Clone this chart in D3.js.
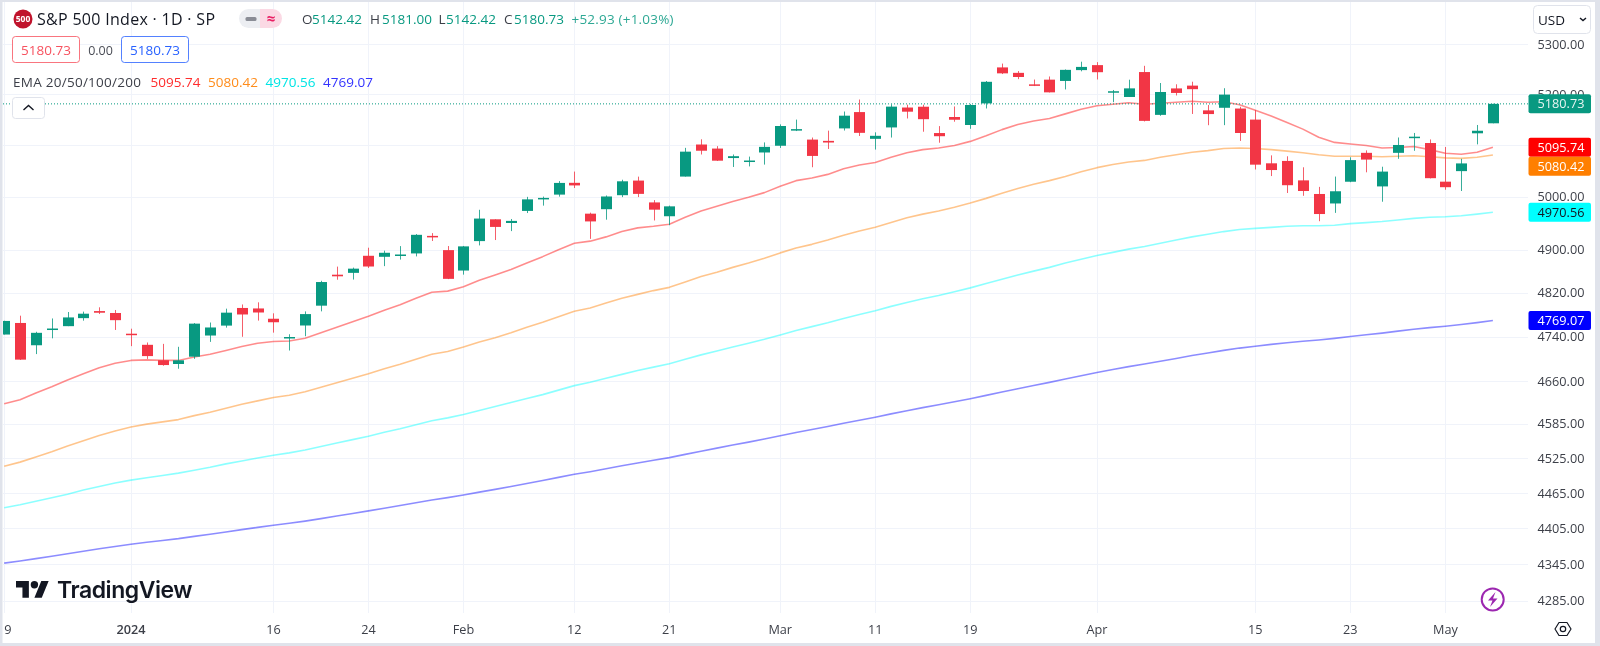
<!DOCTYPE html>
<html><head><meta charset="utf-8">
<script src="https://cdn.jsdelivr.net/npm/d3@7/dist/d3.min.js"></script>
<style>
html,body{margin:0;padding:0;background:#fff;overflow:hidden}
svg{display:block;filter:blur(0.35px)}
text{font-family:"Open Sans",Roboto,sans-serif}
</style></head><body>
<svg id="c" width="1600" height="646"></svg>
<script>
const dates=["12-19","12-20","12-21","12-22","12-26","12-27","12-28","12-29","01-02","01-03","01-04","01-05","01-08","01-09","01-10","01-11","01-12","01-16","01-17","01-18","01-19","01-22","01-23","01-24","01-25","01-26","01-29","01-30","01-31","02-01","02-02","02-05","02-06","02-07","02-08","02-09","02-12","02-13","02-14","02-15","02-16","02-20","02-21","02-22","02-23","02-26","02-27","02-28","02-29","03-01","03-04","03-05","03-06","03-07","03-08","03-11","03-12","03-13","03-14","03-15","03-18","03-19","03-20","03-21","03-22","03-25","03-26","03-27","03-28","04-01","04-02","04-03","04-04","04-05","04-08","04-09","04-10","04-11","04-12","04-15","04-16","04-17","04-18","04-19","04-22","04-23","04-24","04-25","04-26","04-29","04-30","05-01","05-02","05-03","05-06"];
const open=[4743.7,4764.7,4724.3,4753.9,4758.9,4773.5,4786.4,4782.9,4745.2,4725.1,4697.4,4690.6,4703.7,4741.9,4759.9,4792.1,4791.2,4772.4,4739.1,4760.1,4796.3,4853.4,4856.8,4888.6,4886.7,4888.9,4893,4925.9,4899.2,4861.1,4916.1,4957.2,4950.2,4973.1,4995.2,5004.2,5026.8,4967.9,4976.4,5003.1,5031.1,4989.3,4963,5038.8,5100.9,5093,5074.6,5067.2,5085.4,5098.5,5131,5110.5,5108,5132.4,5164.5,5112,5134.3,5173.5,5175.1,5123.3,5154.8,5139.1,5181.7,5253.4,5242.5,5219.5,5228.9,5226.3,5248,5258,5204.3,5194.4,5244.1,5159,5211.4,5217,5167.9,5173,5171.5,5149.7,5064.4,5069,5031.5,5005.4,4987.3,5028.9,5084.7,5019.9,5084.7,5114.1,5103.8,5029,5049.3,5122.8,5142.42];
const high=[4768.7,4778,4748.7,4772.9,4784.7,4785.4,4793.3,4788.4,4754.3,4729.3,4726.8,4721.5,4764.5,4765.5,4790.8,4798.5,4802.4,4782.3,4744.2,4785.8,4842.1,4868.4,4866.5,4903.7,4898.2,4906.7,4929.3,4931.1,4906.8,4907,4975.3,4957.2,4957.8,4999.9,5000.4,5030.1,5048.4,4969.8,5002.5,5032.7,5038.7,4993.7,4983.2,5094.4,5111.1,5097.7,5081.5,5077.4,5105,5140.3,5149.7,5114.5,5128,5165.6,5189.3,5124.7,5179.9,5179.1,5179.1,5136.9,5175.6,5180.3,5226.2,5261.1,5246.1,5229.1,5235.2,5249.3,5264.9,5264,5208.3,5228.8,5256.6,5222.2,5219.6,5224.8,5178.4,5211.8,5175,5168.4,5079.8,5078,5056.7,5019,5038.8,5076.1,5089.5,5057.8,5114.6,5123.5,5110.8,5096.1,5073.1,5139.1,5181];
const low=[4743.7,4697.8,4708.4,4736.8,4758.9,4768.9,4781,4752,4722.7,4699.7,4687.5,4682.1,4699.8,4730.4,4756.2,4739.6,4769,4747.1,4714.8,4740.6,4785.9,4844.1,4844.4,4865.9,4869.3,4881.5,4887.4,4916.3,4845.2,4853.5,4908,4918.1,4934.9,4969.1,4983.2,5000.3,5016.8,4920.3,4956.5,4999.4,4999.5,4955,4946,5038.8,5081.5,5068.9,5057.3,5058.4,5061.9,5094.2,5127.2,5056.8,5092.2,5128.2,5117.5,5091.1,5114.5,5151.9,5125.9,5104.4,5145.5,5131.6,5171.6,5240.1,5229.9,5216.1,5203.4,5209.4,5245.6,5229.2,5184.1,5194.4,5146.1,5157.2,5197.4,5160.8,5138.7,5138.8,5107.9,5052.5,5039.8,5007.3,5001.9,4953.6,4969.4,5028,5047,4990.6,5073.1,5088.7,5035.3,5013.5,5011.1,5101.2,5142.42];
const close=[4768.4,4698.4,4746.8,4754.6,4774.8,4781.6,4783.4,4769.8,4742.8,4704.8,4688.7,4697.2,4763.5,4756.5,4783.5,4780.2,4783.8,4766,4739.2,4780.9,4839.8,4850.4,4864.6,4868.6,4894.2,4891,4927.9,4925,4845.7,4906.2,4958.6,4942.8,4954.2,4995.1,4997.9,5026.6,5021.8,4953.2,5000.6,5029.7,5005.6,4975.5,4981.8,5087,5088.8,5069.5,5078.2,5069.8,5096.3,5137.1,5131,5078.7,5104.8,5157.4,5123.7,5117.9,5175.3,5165.3,5150.5,5117.1,5149.4,5178.5,5224.6,5241.5,5234.2,5218.2,5203.6,5248.5,5254.4,5243.8,5205.8,5211.5,5147.2,5204.3,5202.4,5209.9,5160.6,5199.1,5123.4,5061.8,5051.4,5022.2,5011.1,4967.2,5010.6,5070.6,5071.6,5048.4,5100,5116.2,5035.7,5018.4,5064.2,5127.8,5180.73];
const ema20=[4620,4627,4639,4650,4662,4673,4684,4692,4697,4698,4697,4697,4703,4708,4715,4722,4728,4731,4732,4737,4747,4757,4767,4777,4788,4798,4810,4821,4823,4831,4843,4853,4863,4875,4887,4900,4912,4916,4924,4934,4941,4944,4948,4961,4973,4982,4991,4999,5008,5020,5031,5036,5043,5054,5061,5066,5076,5085,5091,5094,5099,5107,5118,5130,5140,5147,5152,5161,5170,5177,5180,5183,5180,5182,5184,5186,5184,5185,5179,5168,5157,5144,5131,5115,5105,5102,5099,5094,5095,5097,5091,5084,5082,5086,5095.74];
const ema50=[4511,4518,4527,4536,4546,4555,4564,4572,4579,4584,4588,4592,4599,4605,4612,4619,4625,4631,4635,4641,4649,4657,4665,4673,4682,4690,4699,4708,4713,4721,4730,4738,4747,4757,4766,4776,4786,4792,4801,4810,4817,4824,4830,4840,4850,4858,4867,4875,4884,4894,4903,4910,4918,4927,4935,4942,4951,4960,4967,4973,4980,4988,4997,5007,5016,5024,5031,5039,5048,5056,5062,5067,5070,5076,5081,5086,5089,5093,5094,5093,5091,5088,5085,5081,5078,5078,5078,5077,5078,5079,5077,5075,5074,5076,5080.42];
const ema100=[4440,4445,4451,4457,4463,4470,4476,4482,4487,4491,4495,4499,4504,4509,4515,4520,4525,4530,4534,4539,4545,4551,4557,4563,4570,4576,4583,4590,4595,4601,4608,4615,4622,4629,4636,4644,4652,4658,4665,4672,4679,4685,4691,4699,4707,4714,4721,4728,4735,4743,4751,4758,4765,4773,4780,4787,4795,4802,4809,4815,4822,4829,4837,4845,4853,4860,4867,4875,4882,4889,4895,4901,4906,4912,4918,4924,4929,4934,4938,4940,4942,4944,4945,4945,4946,4949,4951,4953,4956,4959,4961,4962,4964,4967,4970.56];
const ema200=[4347,4350.5,4354.4,4358.4,4362.5,4366.7,4370.8,4374.8,4378.5,4381.7,4384.8,4387.9,4391.6,4395.2,4399.1,4402.9,4406.7,4410.3,4413.6,4417.3,4421.5,4425.8,4430.2,4434.6,4439.2,4443.7,4448.5,4453.2,4457.1,4461.6,4466.5,4471.2,4476,4481.2,4486.3,4491.7,4497,4501.5,4506.5,4511.7,4516.6,4521.2,4525.8,4531.4,4536.9,4542.2,4547.5,4552.7,4558.1,4563.9,4569.5,4574.6,4579.9,4585.6,4591,4596.2,4602,4607.6,4613,4618,4623.3,4628.8,4634.7,4640.7,4646.6,4652.3,4657.8,4663.7,4669.6,4675.3,4680.6,4685.9,4690.5,4695.6,4700.6,4705.7,4710.2,4715.1,4719.2,4722.6,4725.9,4728.8,4731.6,4733.9,4736.7,4740,4743.3,4746.3,4749.8,4753.4,4756.2,4758.8,4761.8,4765.4,4769.07];
const priceTicks=[5300,5200,5100,5000,4900,4820,4740,4660,4585,4525,4465,4405,4345,4285];
const timeTicks=[["12-19","19"],["01-02","2024"],["01-16","16"],["01-24","24"],["02-01","Feb"],["02-12","12"],["02-21","21"],["03-01","Mar"],["03-11","11"],["03-19","19"],["04-01","Apr"],["04-15","15"],["04-23","23"],["05-01","May"]];
const lastPrice=5180.73;
const emaNames=["5095.74","5080.42","4970.56","4769.07"];
const emaLineColors=["#ff0000","#ff7f00","#00ffff","#0000ff"];
const emaLegendColors=["#ff2d2d","#ff8c1a","#00e5e5","#3333ff"];
const emaSeries=[ema20,ema50,ema100,ema200];
const ohlcLabels=[["O","5142.42"],["H","5181.00"],["L","5142.42"],["C","5180.73"]];

const GREEN="#089981",RED="#f23645",INK="#131722",GRID="#f0f3fa";
const paneL=3,paneR=1528,paneB=613;
const svg=d3.select("#c");
const x=d3.scalePoint().domain(dates).range([4.2,1492.9]);
const y=d3.scaleLog().domain([4285,5300]).range([600.7,44.3]);

svg.append("defs").append("clipPath").attr("id","pane").append("rect")
  .attr("x",paneL).attr("y",2).attr("width",paneR-paneL).attr("height",paneB-2);
svg.append("defs").append("clipPath").attr("id","tax").append("rect")
  .attr("x",paneL).attr("y",613).attr("width",paneR-paneL).attr("height",30);

// grid
const g=svg.append("g").attr("stroke",GRID).attr("stroke-width",1);
g.selectAll(".h").data(priceTicks).join("line")
  .attr("x1",paneL).attr("x2",paneR).attr("y1",d=>Math.round(y(d))+.5).attr("y2",d=>Math.round(y(d))+.5);
g.selectAll(".v").data(timeTicks).join("line")
  .attr("x1",d=>Math.round(x(d[0]))+.5).attr("x2",d=>Math.round(x(d[0]))+.5).attr("y1",2).attr("y2",paneB);

const pane=svg.append("g").attr("clip-path","url(#pane)");
// EMA lines
const line=d3.line().x((d,i)=>x(dates[i])).y(d=>y(d));
pane.selectAll(".ema").data(emaSeries).join("path")
  .attr("d",line).attr("fill","none").attr("stroke-width",1.6).attr("stroke-linejoin","round")
  .attr("stroke",(d,i)=>emaLineColors[i]).attr("stroke-opacity",.45);
// last price dotted
pane.append("line").attr("x1",paneL).attr("x2",paneR).attr("y1",y(lastPrice)).attr("y2",y(lastPrice))
  .attr("stroke",GREEN).attr("stroke-dasharray","1 2");
// candles
const bars=pane.selectAll(".bar").data(dates).join("g");
bars.append("line").attr("x1",d=>Math.round(x(d))+.5).attr("x2",d=>Math.round(x(d))+.5)
  .attr("y1",(d,i)=>y(high[i])).attr("y2",(d,i)=>y(low[i]))
  .attr("stroke",(d,i)=>close[i]>=open[i]?GREEN:RED).attr("stroke-width",1).attr("stroke-opacity",.8);
bars.append("rect").attr("x",d=>Math.round(x(d))-5).attr("width",11)
  .attr("y",(d,i)=>y(Math.max(open[i],close[i])))
  .attr("height",(d,i)=>Math.max(1.5,Math.abs(y(open[i])-y(close[i]))))
  .attr("fill",(d,i)=>close[i]>=open[i]?GREEN:RED);

// price axis text
const axisFs=12.7;
svg.append("g").selectAll("text").data(priceTicks).join("text")
  .attr("x",1561).attr("y",d=>y(d)+4.6).attr("text-anchor","middle").attr("font-size",axisFs)
  .attr("fill","#3c3f48").text(d=>d.toFixed(2));
// time axis text
svg.append("g").attr("clip-path","url(#tax)").selectAll("text").data(timeTicks).join("text")
  .attr("x",d=>x(d[0])).attr("y",634).attr("text-anchor","middle").attr("font-size",12.7)
  .attr("font-weight",d=>d[1]==="2024"?600:400)
  .attr("fill","#3c3f48").text(d=>d[1]);

// price pills, pushed apart when they collide
const pillH=19;
const pills=[{v:lastPrice,t:lastPrice.toFixed(2),bg:GREEN,fg:"#e8f5f2"}]
 .concat(emaNames.map((n,i)=>({v:emaSeries[i][emaSeries[i].length-1],t:n,bg:["#ff0000","#ff7f00","#00ffff","#0000ff"][i],fg:i===2?"#131722":"#ffffff"})));
pills.sort((a,b)=>b.v-a.v);
let prev=-1e9;
pills.forEach(p=>{p.cy=Math.max(y(p.v),prev+pillH);prev=p.cy;});
const pg=svg.append("g").selectAll("g").data(pills).join("g");
pg.append("rect").attr("x",1528.5).attr("width",62.5).attr("y",d=>d.cy-pillH/2).attr("height",pillH).attr("rx",2).attr("fill",d=>d.bg);
pg.append("text").attr("x",1561).attr("y",d=>d.cy+4.6).attr("text-anchor","middle").attr("font-size",axisFs).attr("fill",d=>d.fg).text(d=>d.t);

// header
const H=svg.append("g");
H.append("circle").attr("cx",23).attr("cy",19).attr("r",9.5).attr("fill","#c0132c");
H.append("text").attr("x",23).attr("y",22).attr("text-anchor","middle").attr("font-size",8.5).attr("font-weight",700).attr("fill","#fff").text("500");
H.append("text").attr("x",37).attr("y",25).attr("font-size",16).attr("fill",INK).attr("textLength",178).text("S&P 500 Index · 1D · SP");
H.append("path").attr("d","M248.5 9h11.5v19h-11.5a9.5 9.5 0 0 1 0-19z").attr("fill","#eceef2");
H.append("path").attr("d","M260 9h12.5a9.5 9.5 0 0 1 0 19h-12.5z").attr("fill","#fbd9e4");
H.append("rect").attr("x",245.5).attr("y",17).attr("width",11).attr("height",4).attr("rx",1.5).attr("fill","#8a8d96");
H.append("text").attr("x",271).attr("y",24).attr("text-anchor","middle").attr("font-size",15).attr("font-weight",700).attr("fill","#e91e63").text("≈");
const ohlcX=[302,370,438.5,504],ohlcV=[312,382,446,514];
ohlcLabels.forEach((d,i)=>{
  H.append("text").attr("x",ohlcX[i]).attr("y",24).attr("font-size",13.5).attr("fill","#3c3f48").text(d[0]);
  H.append("text").attr("x",ohlcV[i]).attr("y",24).attr("font-size",13.5).attr("fill",GREEN).text(d[1]);
});
H.append("text").attr("x",571.5).attr("y",24).attr("font-size",13.5).attr("fill",GREEN).attr("fill-opacity",.85).attr("textLength",102).text("+52.93 (+1.03%)");
[[12.5,"#f7525f"],[121.5,"#2962ff"]].forEach(b=>{
  H.append("rect").attr("x",b[0]).attr("y",36.5).attr("width",67).attr("height",26).attr("rx",3).attr("fill","#fff").attr("stroke",b[1]).attr("stroke-opacity",.8);
  H.append("text").attr("x",b[0]+33.5).attr("y",54.6).attr("text-anchor","middle").attr("font-size",13.5).attr("fill",b[1]).text(lastPrice.toFixed(2));
});
H.append("text").attr("x",100.5).attr("y",54.6).attr("text-anchor","middle").attr("font-size",12.5).attr("fill","#4a4d56").text("0.00");
H.append("text").attr("x",13).attr("y",86.5).attr("font-size",13.5).attr("fill","#3c3f48").attr("textLength",128).text("EMA 20/50/100/200");
[150.5,208,265.5,323].forEach((px,i)=>H.append("text").attr("x",px).attr("y",86.5).attr("font-size",13.5).attr("fill",emaLegendColors[i]).text(emaNames[i]));
H.append("rect").attr("x",12.5).attr("y",97.5).attr("width",32).attr("height",21).attr("rx",3).attr("fill","#fff").attr("stroke","#e0e3eb");
H.append("path").attr("d","M23.5 110l5-4.5 5 4.5").attr("fill","none").attr("stroke",INK).attr("stroke-width",1.4);
// currency
H.append("rect").attr("x",1533.5).attr("y",5.5).attr("width",57).attr("height",28).attr("rx",4).attr("fill","#fff").attr("stroke","#e0e3eb");
H.append("text").attr("x",1538).attr("y",25).attr("font-size",13.5).attr("fill",INK).text("USD");
H.append("path").attr("d","M1580 18l3 2.6 3-2.6").attr("fill","none").attr("stroke",INK).attr("stroke-width",1.4);

// logo
const L=svg.append("g").attr("transform","translate(16,577.4) scale(.92)").attr("fill",INK);
L.append("path").attr("d","M14 22H7V11H0V4h14v18zM28 22h-8l7.5-18h8L28 22z");
L.append("circle").attr("cx",20).attr("cy",8).attr("r",4);
svg.append("text").attr("x",57).attr("y",598).style("font-family","Inter").attr("font-size",23).attr("font-weight",600).attr("letter-spacing",-.45).attr("fill",INK).text("TradingView");

// bolt + settings
svg.append("circle").attr("cx",1492.7).attr("cy",599.4).attr("r",11).attr("fill","#fff").attr("stroke","#9c27b0").attr("stroke-width",2);
svg.append("path").attr("d","M1495.5 592l-7.5 8.5h4.5l-2.5 6.5 7.5-8.5h-4.5z").attr("fill","#9c27b0");
svg.append("path").attr("d","M1559 622.5h8l4 6.5-4 6.5h-8l-4-6.5z").attr("fill","none").attr("stroke",INK).attr("stroke-width",1.2).attr("stroke-linejoin","round");
svg.append("circle").attr("cx",1563).attr("cy",629).attr("r",2.7).attr("fill","none").attr("stroke",INK).attr("stroke-width",1.2);

// outer frame
const F=svg.append("g").attr("fill","#e0e3eb");
F.append("rect").attr("x",0).attr("y",0).attr("width",1600).attr("height",2);
F.append("rect").attr("x",0).attr("y",0).attr("width",2.5).attr("height",646);
F.append("rect").attr("x",1595).attr("y",0).attr("width",5).attr("height",646);
F.append("rect").attr("x",0).attr("y",643).attr("width",1600).attr("height",3);
</script>
</body></html>
